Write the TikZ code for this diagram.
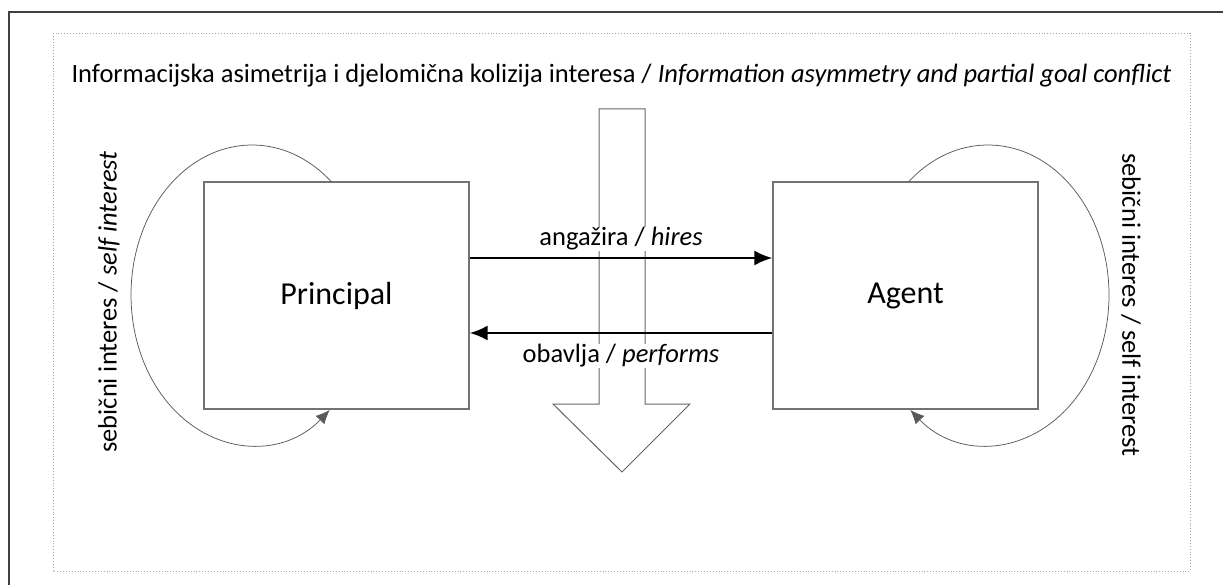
\documentclass[tikz,border=0pt]{standalone}
\usepackage{fontspec}
\setmainfont{Carlito}
\usetikzlibrary{arrows.meta}
\begin{document}
\begin{tikzpicture}[x=1pt,y=-1pt,
  box/.style={draw=black!55,line width=1.1pt,minimum width=265pt,minimum height=227pt,inner sep=0pt,font=\fontsize{32}{38}\selectfont},
  selfloop/.style={draw=black!65,line width=0.75pt,-{Latex[length=14pt,width=12pt]}},
  rel/.style={draw=black,line width=2.6pt,-{Latex[length=18pt,width=15pt]}},
  lbl/.style={fill=white,inner sep=1pt,font=\fontsize{26.5}{30}\selectfont},
  sidelbl/.style={inner sep=0pt,font=\fontsize{26.5}{30}\selectfont},
  bigarrow/.style={draw=black!60,line width=1pt,line join=miter}]
\useasboundingbox (0,0) rectangle (1223,585);
% outer frame
\draw[black!75,line width=1.6pt] (9,585) -- (9,12) -- (1223,12);
% dotted frame
\draw[black!35,line width=0.9pt,dotted] (53,33) rectangle (1190,571);
% title
\node[inner sep=0pt,font=\fontsize{26.5}{30}\selectfont] (title) at (621.5,76)
  {Informacijska asimetrija i djelomična kolizija interesa / \textit{Information asymmetry and partial goal conflict}};
% big hollow arrow
\draw[bigarrow] (599,109) -- (645,109) -- (645,404) -- (690,404) -- (622,472) -- (553,404) -- (599,404) -- cycle;
% boxes
\node[box] (P) at (336.5,295.5) {Principal};
\node[box] (A) at (905.5,295.5) {Agent};
% self loops
\coordinate (ls) at (331.4,181.8);
\coordinate (rs) at (908.6,181.8);
\draw[selfloop] (ls) arc[start angle=-49,end angle=-310,x radius=121,y radius=150];
\draw[selfloop] (rs) arc[start angle=229,end angle=490,x radius=121,y radius=150];
% relations
\coordinate (h1) at (0,258);
\coordinate (h2) at (0,333);
\draw[rel] (P.east |- h1) -- (A.west |- h1);
\draw[rel] (A.west |- h2) -- (P.east |- h2);
\node[lbl] (hires) at (621,239) {angažira / \textit{hires}};
\node[lbl] (perf) at (621,356) {obavlja / \textit{performs}};
% side labels
\node[sidelbl,rotate=90] (sl) at (109,302) {sebični interes / \textit{self interest}};
\node[sidelbl,rotate=-90] (sr) at (1131,305) {sebični interes / self interest};
\end{tikzpicture}
\end{document}
